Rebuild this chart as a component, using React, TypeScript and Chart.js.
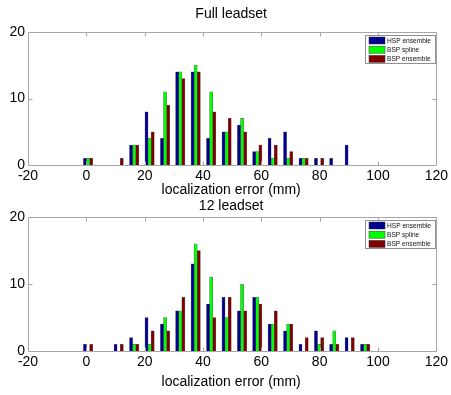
import React, { useEffect, useRef } from "react";
import { Chart, registerables } from "chart.js";

Chart.register(...registerables);

// ---------- data ----------
const binCenters = [0.6, 5.8, 11.1, 16.4, 21.7, 27.0, 32.2, 37.5, 42.8, 48.1, 53.4, 58.6, 63.9, 69.2, 74.5, 79.8, 85.0, 90.3, 95.6];
const seriesNames = ["HSP ensemble", "BSP spline", "BSP ensemble"];
const seriesColors = ["#00008f", "#00ff00", "#800000"];

const fullHsp = [1, 0, 0, 3, 8, 4, 14, 14, 4, 5, 6, 2, 4, 5, 1, 1, 1, 3, 0];
const fullSpline = [1, 0, 0, 3, 4, 11, 14, 15, 11, 5, 7, 2, 1, 1, 1, 0, 0, 0, 0];
const fullEns = [1, 0, 1, 3, 5, 9, 13, 14, 8, 7, 5, 3, 3, 2, 1, 1, 0, 0, 0];

const leadHsp = [1, 0, 1, 2, 5, 4, 6, 13, 7, 8, 6, 8, 4, 3, 1, 3, 1, 2, 1];
const leadSpline = [0, 0, 0, 1, 1, 5, 6, 16, 11, 5, 10, 8, 4, 4, 0, 1, 3, 0, 1];
const leadEns = [1, 0, 1, 1, 3, 3, 8, 15, 5, 8, 6, 7, 6, 4, 2, 2, 1, 2, 1];

const xTicks = [-20, 0, 20, 40, 60, 80, 100, 120];
const yTicks = [0, 10, 20];

const titles = ["Full leadset", "12 leadset"];
const xLabel = "localization error (mm)";

const FONT = '"Liberation Sans", Arial, Helvetica, sans-serif';

const framePlugin = {
  id: "frame",
  afterDatasetsDraw(chart: any, _args: any, opts: any) {
    const { ctx, chartArea: a, scales } = chart;
    ctx.save();
    ctx.strokeStyle = "#a6a6a6";
    ctx.lineWidth = 1;
    const L = Math.round(a.left) + 0.5;
    const T = Math.round(a.top) + 0.5;
    const R = Math.round(a.right) + 0.5;
    const B = Math.round(a.bottom) + 0.5;
    ctx.beginPath();
    ctx.rect(L, T, R - L, B - T);
    for (const v of xTicks.slice(1, -1)) {
      const px = Math.round(scales.x.getPixelForValue(v)) + 0.5;
      ctx.moveTo(px, T);
      ctx.lineTo(px, T + 4);
      ctx.moveTo(px, B);
      ctx.lineTo(px, B - 4);
    }
    for (const v of yTicks.slice(1, -1)) {
      const py = Math.round(scales.y.getPixelForValue(v)) + 0.5;
      ctx.moveTo(L, py);
      ctx.lineTo(L + 4, py);
      ctx.moveTo(R, py);
      ctx.lineTo(R - 4, py);
    }
    ctx.stroke();

    // titles
    ctx.fillStyle = "#000";
    ctx.font = "14px " + FONT;
    ctx.textAlign = "center";
    ctx.textBaseline = "middle";
    const cx = (a.left + a.right) / 2 - 1;
    ctx.fillText(opts.title, cx, a.top + opts.titleDy);
    ctx.fillText(opts.xlabel, cx, a.bottom + opts.xlabelDy);

    // legend
    const lw = 70;
    const lh = 28;
    const lx = Math.round(a.right) - lw - 0.5;
    const ly = Math.round(a.top) + 3 + 0.5;
    ctx.fillStyle = "#fff";
    ctx.fillRect(lx, ly, lw, lh);
    ctx.strokeStyle = "#909090";
    ctx.lineWidth = 1;
    ctx.strokeRect(lx, ly, lw, lh);
    ctx.font = "6.6px " + FONT;
    ctx.textAlign = "left";
    seriesNames.forEach((name, i) => {
      const sy = ly + 1.5 + i * 9.2;
      ctx.fillStyle = seriesColors[i];
      ctx.fillRect(lx + 3.5, sy, 16, 7);
      ctx.strokeStyle = "#333";
      ctx.lineWidth = 0.5;
      ctx.strokeRect(lx + 3.5, sy, 16, 7);
      ctx.fillStyle = "#111";
      ctx.fillText(name, lx + 21.5, sy + 3.8);
    });
    ctx.restore();
  },
};

function buildDatasets(values: number[][]) {
  return values.map((vals, i) => ({
    label: seriesNames[i],
    data: binCenters.map((x, j) => ({ x, y: vals[j] === 0 ? null : vals[j] })),
    backgroundColor: seriesColors[i],
    borderColor: "rgba(40,40,40,0.7)",
    borderWidth: 0.5,
    barThickness: 3.1,
  }));
}

type PanelProps = {
  top: number;
  height: number;
  values: number[][];
  title: string;
  padTop: number;
  xScaleHeight: number;
  titleDy: number;
  xlabelDy: number;
};

function Panel(p: PanelProps) {
  const ref = useRef<HTMLCanvasElement | null>(null);
  useEffect(() => {
    if (!ref.current) return;
    const chart = new Chart(ref.current, {
      type: "bar",
      data: { datasets: buildDatasets(p.values) as any },
      plugins: [framePlugin as any],
      options: {
        animation: false,
        responsive: false,
        devicePixelRatio: 1,
        layout: { padding: { top: p.padTop, right: 13, left: 0, bottom: 0 } },
        plugins: {
          legend: { display: false },
          tooltip: { enabled: false },
          title: { display: false },
          frame: { title: p.title, xlabel: xLabel, titleDy: p.titleDy, xlabelDy: p.xlabelDy },
        } as any,
        scales: {
          x: {
            type: "linear",
            min: -20,
            max: 120,
            offset: false,
            grid: { display: false, drawTicks: false },
            border: { display: false },
            ticks: {
              stepSize: 20,
              padding: 3,
              color: "#000",
              font: { size: 14, family: FONT },
              maxRotation: 0,
              autoSkip: false,
            },
            afterFit: (s: any) => {
              s.height = p.xScaleHeight;
            },
          },
          y: {
            min: 0,
            max: 20,
            grid: { display: false, drawTicks: false },
            border: { display: false },
            ticks: {
              stepSize: 10,
              padding: 3,
              color: "#000",
              font: { size: 14, family: FONT },
            },
            afterFit: (s: any) => {
              s.width = 28;
            },
          },
        },
      } as any,
    });
    return () => chart.destroy();
  }, []);
  return (
    <canvas
      ref={ref}
      width={451}
      height={p.height}
      style={{ position: "absolute", left: 0, top: p.top, width: 451, height: p.height }}
    />
  );
}

export default function App() {
  return (
    <div
      style={{
        position: "fixed",
        left: 0,
        top: 0,
        width: 451,
        height: 395,
        background: "#fff",
        overflow: "hidden",
      }}
    >
      <Panel
        top={0}
        height={198}
        values={[fullHsp, fullSpline, fullEns]}
        title={titles[0]}
        padTop={32}
        xScaleHeight={33}
        titleDy={-18.3}
        xlabelDy={25}
      />
      <Panel
        top={198}
        height={197}
        values={[leadHsp, leadSpline, leadEns]}
        title={titles[1]}
        padTop={19}
        xScaleHeight={44}
        titleDy={-10.6}
        xlabelDy={31}
      />
    </div>
  );
}
